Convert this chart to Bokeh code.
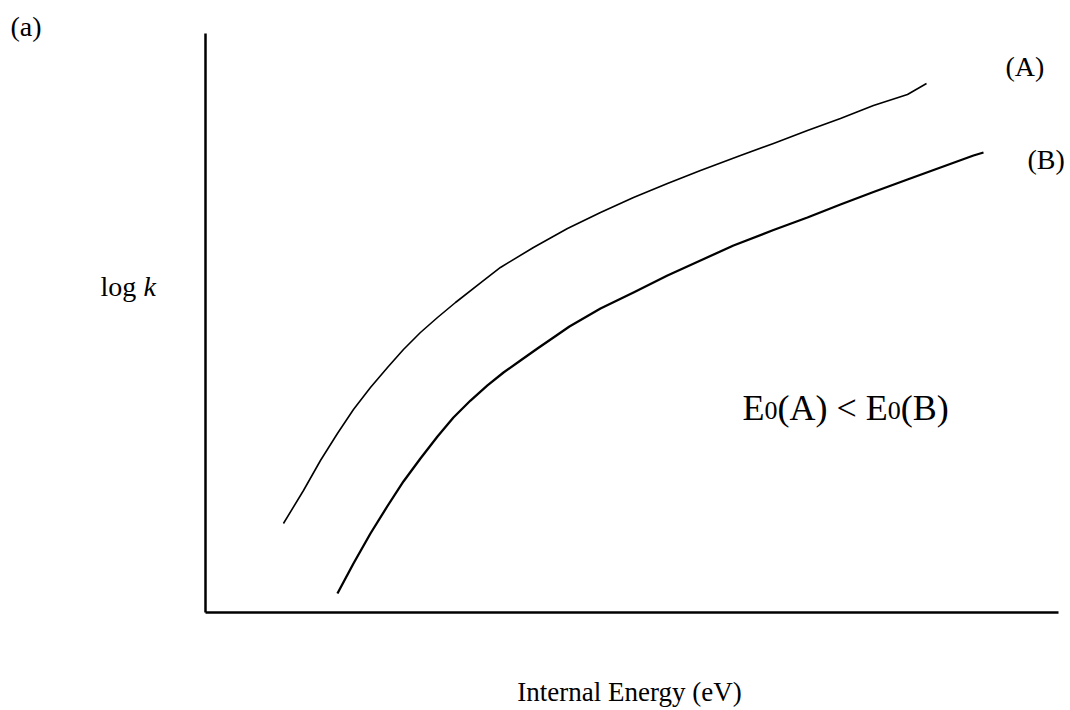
from bokeh.plotting import figure
from bokeh.models import Range1d, Label, FixedTicker, LinearAxis
from bokeh.embed import file_html
from bokeh.resources import INLINE

# Rate-energy curves (arbitrary units): log k versus internal energy
energy_a = [0.914, 1.149, 1.348, 1.547, 1.735, 1.934, 2.134, 2.321, 2.520, 2.720,
            2.931, 3.247, 3.458, 3.845, 4.244, 4.631, 5.018, 5.416, 5.803, 6.272,
            6.659, 7.057, 7.444, 7.831, 8.230, 8.453]
logk_a = [1.537, 2.107, 2.625, 3.092, 3.506, 3.886, 4.231, 4.542, 4.836, 5.095,
          5.354, 5.717, 5.959, 6.304, 6.632, 6.908, 7.168, 7.409, 7.634, 7.893,
          8.100, 8.325, 8.532, 8.756, 8.946, 9.136]

energy_b = [1.547, 1.735, 1.934, 2.134, 2.321, 2.520, 2.720, 2.907, 3.107, 3.306,
            3.494, 3.693, 3.892, 4.080, 4.267, 4.631, 5.018, 5.416, 5.803, 6.190,
            6.659, 7.057, 7.444, 7.831, 8.230, 8.617, 9.004, 9.121]
logk_b = [0.328, 0.846, 1.364, 1.839, 2.263, 2.660, 3.040, 3.368, 3.661, 3.921,
          4.145, 4.352, 4.560, 4.750, 4.940, 5.250, 5.527, 5.820, 6.079, 6.339,
          6.606, 6.822, 7.047, 7.263, 7.478, 7.686, 7.893, 7.945]

SERIF = "Liberation Serif"

# The frame fills the whole page so that the free-standing texts are not clipped;
# the two axes are pinned at x = 0 and y = 0 and bounded to the plotted span.
p = figure(width=1070, height=710, output_backend="svg", toolbar_location=None,
           x_range=Range1d(-2.403, 10.141), y_range=Range1d(-1.693, 10.570),
           x_axis_location=None, y_axis_location=None,
           min_border=0, min_border_left=0, min_border_right=0,
           min_border_top=0, min_border_bottom=0)

p.outline_line_color = None
p.grid.visible = False
p.background_fill_color = "white"
p.border_fill_color = "white"

xaxis = LinearAxis(fixed_location=0, bounds=(0, 10))
yaxis = LinearAxis(fixed_location=0, bounds=(0, 10))
for ax in (xaxis, yaxis):
    ax.ticker = FixedTicker(ticks=[])
    ax.major_tick_line_color = None
    ax.minor_tick_line_color = None
    ax.major_tick_out = 0
    ax.major_tick_in = 0
    ax.major_label_standoff = 0
    ax.major_label_text_font_size = "0px"
    ax.axis_line_color = "black"
    ax.axis_line_width = 2.5
p.add_layout(xaxis, "below")
p.add_layout(yaxis, "left")

p.line(energy_a, logk_a, line_color="black", line_width=1.6, line_join="round")
p.line(energy_b, logk_b, line_color="black", line_width=2.3, line_join="round")


def label(x, y, text, size, style="normal", align="left"):
    p.add_layout(Label(x=x, y=y, text=text, text_font=SERIF,
                       text_font_size=size, text_font_style=style,
                       text_align=align, text_baseline="alphabetic",
                       text_color="black"))


label(-2.286, 10.121, "(a)", "28px")
label(-1.231, 5.630, "log", "28px")
label(-0.727, 5.630, "k", "28px", style="italic")
label(9.379, 9.430, "(A)", "28px")
label(9.637, 7.823, "(B)", "28px")

# E0(A) < E0(B), with lowered subscripts
label(6.295, 3.540, "E", "36px")
label(6.553, 3.488, "0", "26px")
label(6.706, 3.540, "(A) < E", "36px")
label(7.999, 3.488, "0", "26px")
label(8.151, 3.540, "(B)", "36px")

label(4.971, -1.382, "Internal Energy (eV)", "27px", align="center")

open("out.html", "w").write(file_html(p, INLINE))
